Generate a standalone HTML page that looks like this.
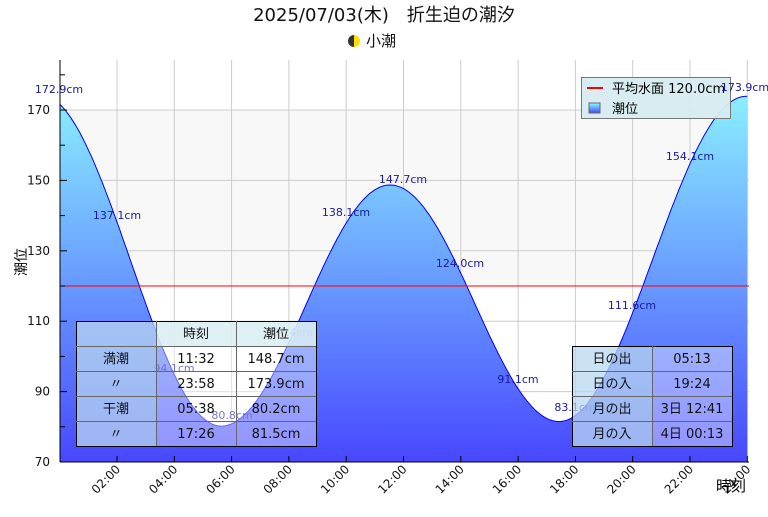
<!DOCTYPE html><html><head><meta charset="utf-8"><style>
body{margin:0;background:#fff;width:768px;height:512px;overflow:hidden}
</style></head><body>
<svg id="s" width="768" height="512" xmlns="http://www.w3.org/2000/svg" font-family="DejaVu Sans, Noto Sans CJK JP, sans-serif">
<defs><linearGradient id="g" x1="0" y1="60" x2="0" y2="462" gradientUnits="userSpaceOnUse"><stop offset="0" stop-color="#90ffff"/><stop offset="1" stop-color="#4848ff"/></linearGradient>
<linearGradient id="lg" x1="0" y1="0" x2="0" y2="1"><stop offset="0" stop-color="#8ff"/><stop offset="1" stop-color="#44f"/></linearGradient></defs>
<text x="384" y="21" font-size="18" text-anchor="middle" fill="#111">2025/07/03(木)　折生迫の潮汐</text>
<path d="M354 35 a6 6 0 0 0 0 12z" fill="#333"/><path d="M354 35 a6 6 0 0 1 0 12z" fill="#ffe000"/>
<text x="366" y="46" font-size="15" fill="#111">小潮</text>
<rect x="60" y="110" width="689" height="176" fill="#f8f8f8"/>
<g id="grid" stroke="#ccc" stroke-width="1"></g>
<path id="area" fill="url(#g)"/>
<path id="line" fill="none" stroke="#00f" stroke-width="1"/>
<line x1="60" y1="286" x2="749" y2="286" stroke="#f00" stroke-width="1"/>
<line x1="60" y1="60" x2="60" y2="462" stroke="#000"/><line x1="60" y1="462" x2="749" y2="462" stroke="#000"/>
<g id="ax" font-size="12" fill="#111"></g>
<text x="26" y="262" font-size="14" transform="rotate(-90 26 262)" text-anchor="middle">潮位</text>
<text x="731" y="491" font-size="15" text-anchor="middle">時刻</text>
<rect x="581.5" y="77.5" width="149" height="41" fill="rgba(215,235,240,0.95)" stroke="#777"/>
<line x1="587" y1="88" x2="603" y2="88" stroke="#f00" stroke-width="2"/>
<text x="612" y="93" font-size="13">平均水面 120.0cm</text>
<rect x="589" y="103" width="11" height="10" fill="url(#lg)" stroke="#666"/>
<text x="612" y="113" font-size="13">潮位</text>
<g id="lbl" font-size="11" fill="#1a1aa0" text-anchor="middle"></g>
<g font-size="13" text-anchor="middle" fill="#111">
<rect x="76.5" y="321.5" width="80" height="125" fill="rgba(185,215,240,0.75)"/>
<rect x="156.5" y="321.5" width="160" height="25" fill="rgba(220,238,244,0.9)"/>
<rect x="156.5" y="346.5" width="160" height="100" fill="rgba(255,255,255,0.4)"/>
<rect x="76.5" y="321.5" width="240" height="125" fill="none" stroke="#000"/>
<g stroke="#666"><line x1="156.5" y1="321" x2="156.5" y2="446"/><line x1="236.5" y1="321" x2="236.5" y2="446"/>
<line x1="76" y1="346.5" x2="316" y2="346.5"/><line x1="76" y1="371.5" x2="316" y2="371.5"/><line x1="76" y1="396.5" x2="316" y2="396.5"/><line x1="76" y1="421.5" x2="316" y2="421.5"/></g>
<text x="196" y="338">時刻</text><text x="276" y="338">潮位</text>
<text x="116" y="363">満潮</text><text x="196" y="363">11:32</text><text x="276" y="363">148.7cm</text>
<text x="116" y="388">〃</text><text x="196" y="388">23:58</text><text x="276" y="388">173.9cm</text>
<text x="116" y="413">干潮</text><text x="196" y="413">05:38</text><text x="276" y="413">80.2cm</text>
<text x="116" y="438">〃</text><text x="196" y="438">17:26</text><text x="276" y="438">81.5cm</text>
<rect x="572.5" y="346.5" width="80" height="100" fill="rgba(185,215,240,0.75)"/>
<rect x="652.5" y="346.5" width="80" height="100" fill="rgba(255,255,255,0.4)"/>
<rect x="572.5" y="346.5" width="160" height="100" fill="none" stroke="#000"/>
<g stroke="#666"><line x1="652.5" y1="346" x2="652.5" y2="446"/><line x1="572" y1="371.5" x2="732" y2="371.5"/><line x1="572" y1="396.5" x2="732" y2="396.5"/><line x1="572" y1="421.5" x2="732" y2="421.5"/></g>
<text x="612" y="363">日の出</text><text x="692" y="363">05:13</text>
<text x="612" y="388">日の入</text><text x="692" y="388">19:24</text>
<text x="612" y="413">月の出</text><text x="692" y="413">3日 12:41</text>
<text x="612" y="438">月の入</text><text x="692" y="438">4日 00:13</text>
</g>
</svg>
<script>
const X=h=>59.7+h*28.65, Y=v=>462-(v-70)*3.52;
const ex=[[-0.7,174.5],[5.633,80.2],[11.533,148.7],[17.433,81.5],[23.967,173.9],[30,80]];
function f(h){for(let i=0;i<ex.length-1;i++){const[a,va]=ex[i],[b,vb]=ex[i+1];if(h>=a&&h<=b){const t=(h-a)/(b-a);return va+(vb-va)*(1-Math.cos(Math.PI*t))/2;}}}
let d="";for(let h=0;h<=24.001;h+=0.1){d+=(d?"L":"M")+X(h).toFixed(1)+" "+Y(f(h)).toFixed(1);}
document.getElementById('line').setAttribute('d',d);
document.getElementById('area').setAttribute('d',d+"L"+X(24)+" 462L"+X(0)+" 462Z");
const g=document.getElementById('grid'),ax=document.getElementById('ax'),lb=document.getElementById('lbl');
let s="",a="";
for(let h=2;h<=24;h+=2){const x=X(h).toFixed(1);s+=`<line x1="${x}" y1="60" x2="${x}" y2="462"/>`;
a+=`<line x1="${x}" y1="462" x2="${x}" y2="456" stroke="#000"/><text x="${+x+4}" y="${470}" transform="rotate(-45 ${+x+4} 470)" text-anchor="end" font-size="12">${String(h).padStart(2,"0")}:00</text>`;}
for(let v=70;v<=170;v+=20){const y=Y(v).toFixed(1);if(v>70)s+=`<line x1="60" y1="${y}" x2="749" y2="${y}"/>`;a+=`<text x="50" y="${+y+4}" text-anchor="end">${v}</text>`;}
for(let v=70;v<=180;v+=10){const y=Y(v).toFixed(1);a+=`<line x1="60" y1="${y}" x2="${v%20==10?67:65}" y2="${y}" stroke="#000"/>`;}
g.innerHTML=s;ax.innerHTML=a;
const L=[[0,"172.9cm",59,93],[2,"137.1cm",117,219],[4,"94.1cm",174,372],[6,"80.8cm",232,419],[8,"107.4cm",289,336],[10,"138.1cm",346,216],[12,"147.7cm",403,183],[14,"124.0cm",460,267],[16,"91.1cm",518,383],[18,"83.1cm",575,411],[20,"111.6cm",632,309],[22,"154.1cm",690,160],[24,"173.9cm",745,91]];
lb.innerHTML=L.map(l=>`<text x="${l[2]}" y="${l[3]}">${l[1]}</text>`).join("");
</script>
</body></html>
